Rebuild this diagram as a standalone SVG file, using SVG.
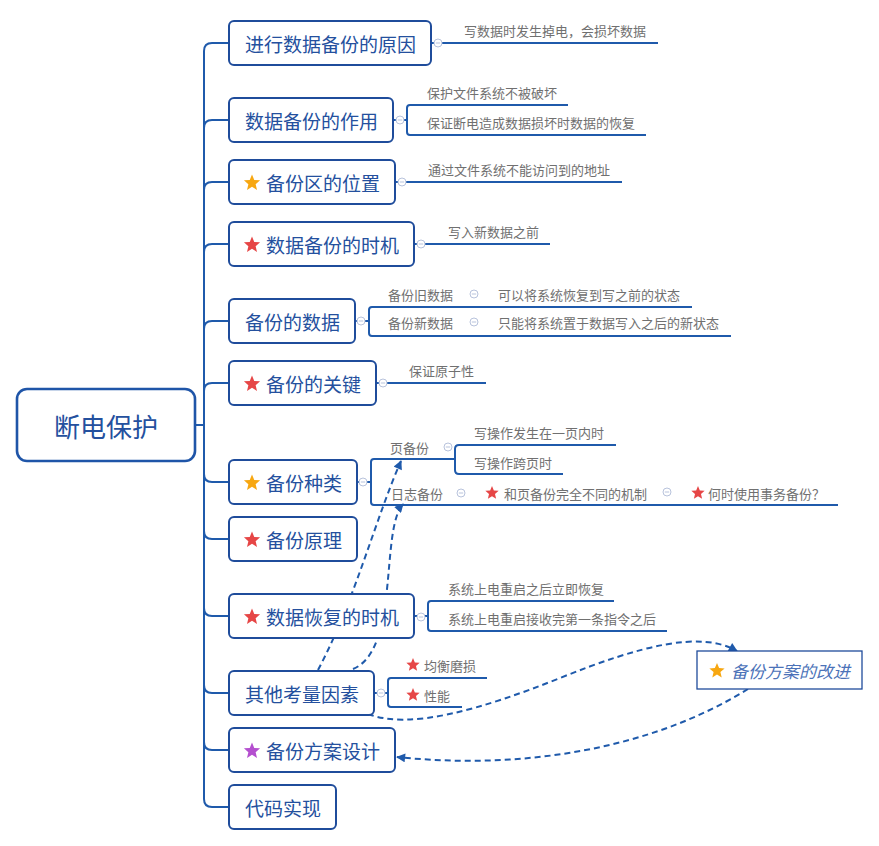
<svg xmlns="http://www.w3.org/2000/svg" width="879" height="846" viewBox="0 0 879 846">
<style>
.bg{fill:#ffffff}
.node{fill:#ffffff;stroke:#1f4c9b;stroke-width:2}
.root{fill:#ffffff;stroke:#1f55a8;stroke-width:2.6}
.nt{font-family:"Microsoft YaHei","Noto Sans CJK SC",sans-serif;font-size:19px;fill:#24509e;dominant-baseline:central}
.rt{font-family:"Microsoft YaHei","Noto Sans CJK SC",sans-serif;font-size:26px;fill:#24509e;dominant-baseline:central;text-anchor:middle}
.ct{font-family:"Microsoft YaHei","Noto Sans CJK SC",sans-serif;font-size:13px;fill:#707070;dominant-baseline:central}
.it{font-family:"Microsoft YaHei","Noto Sans CJK SC",sans-serif;font-size:17px;fill:#4b72b8;font-style:italic;dominant-baseline:central}
.ln{fill:none;stroke:#1f5aab;stroke-width:2}
.dash{fill:none;stroke:#1f5aab;stroke-width:2;stroke-dasharray:6 4}
.col{fill:#ffffff;stroke:#b8c3dc;stroke-width:1}
.colm{stroke:#b8c3dc;stroke-width:1}
.so{fill:#f7a711}
.sr{fill:#e64646}
.sp{fill:#b44fcf}
.fl{fill:#ffffff;stroke:#1f4c9b;stroke-width:1.3}
</style>
<defs>
<path id="star" d="M0,-1 L0.265,-0.364 L0.951,-0.309 L0.428,0.139 L0.588,0.809 L0,0.45 L-0.588,0.809 L-0.428,0.139 L-0.951,-0.309 L-0.265,-0.364 Z"/>
<g id="cb"><circle class="col" r="4"/><line class="colm" x1="-2.2" y1="0" x2="2.2" y2="0"/></g>
<marker id="arr" viewBox="0 0 10 10" refX="9" refY="5" markerWidth="10" markerHeight="9" markerUnits="userSpaceOnUse" orient="auto">
<path d="M0,0 L10,5 L0,10 Z" fill="#1f5aab"/>
</marker>
</defs>
<rect class="bg" x="0" y="0" width="879" height="846"/>

<g id="connectors">
<!-- trunk -->
<path class="ln" d="M195,425 H204 M204,51 V799"/>
<path class="ln" d="M229,43 H212 Q204,43 204,51"/>
<path class="ln" d="M204,128 Q204,120 212,120 H229"/>
<path class="ln" d="M204,190 Q204,182 212,182 H229"/>
<path class="ln" d="M204,252 Q204,244 212,244 H229"/>
<path class="ln" d="M204,329 Q204,321 212,321 H229"/>
<path class="ln" d="M204,391 Q204,383 212,383 H229"/>
<path class="ln" d="M204,474 Q204,482 212,482 H229"/>
<path class="ln" d="M204,531 Q204,539 212,539 H229"/>
<path class="ln" d="M204,608 Q204,616 212,616 H229"/>
<path class="ln" d="M204,685 Q204,693 212,693 H229"/>
<path class="ln" d="M204,742 Q204,750 212,750 H229"/>
<path class="ln" d="M229,807 H212 Q204,807 204,799"/>

<!-- node1 child -->
<path class="ln" d="M431,43 H658"/>
<!-- node2 children -->
<path class="ln" d="M393,120 H407 M568,105 H410 Q407,105 407,108 V132 Q407,135 410,135 H646"/>
<!-- node3 -->
<path class="ln" d="M395,182 H622"/>
<!-- node4 -->
<path class="ln" d="M414,244 H550"/>
<!-- node5 -->
<path class="ln" d="M355,321 H369 M692,307 H372 Q369,307 369,310 V333 Q369,336 372,336 H731"/>
<!-- node6 -->
<path class="ln" d="M376,383 H486"/>
<!-- node7 -->
<path class="ln" d="M357,482 H371 M455,459 H374 Q371,459 371,462 V502 Q371,505 374,505 H838"/>
<path class="ln" d="M616,445 H459 Q455,445 455,449 V470 Q455,474 459,474 H563"/>
<!-- node9 -->
<path class="ln" d="M414,616 H428 M614,601 H431 Q428,601 428,604 V628 Q428,631 431,631 H667"/>
<!-- node10 -->
<path class="ln" d="M374,693 H388 M487,678 H391 Q388,678 388,681 V704 Q388,707 391,707 H462"/>

<!-- collapse markers -->
<use href="#cb" x="438" y="43"/>
<use href="#cb" x="400" y="120"/>
<use href="#cb" x="402" y="182"/>
<use href="#cb" x="421" y="244"/>
<use href="#cb" x="361" y="321"/>
<use href="#cb" x="474" y="294"/>
<use href="#cb" x="474" y="322"/>
<use href="#cb" x="383" y="383"/>
<use href="#cb" x="363" y="482"/>
<use href="#cb" x="448" y="447"/>
<use href="#cb" x="461" y="493"/>
<use href="#cb" x="667" y="492"/>
<use href="#cb" x="421" y="617"/>
<use href="#cb" x="381" y="693"/>

<!-- dashed relationships -->
<path class="dash" d="M318,670 C355,600 375,520 401,461" marker-end="url(#arr)"/>
<path class="dash" d="M353,669 C400,650 380,530 403,504" marker-end="url(#arr)"/>
<path class="dash" d="M368,714 C410,730 480,710 560,678 C640,646 700,630 737,651" marker-end="url(#arr)"/>
<path class="dash" d="M748,689 C650,750 520,770 397,757" marker-end="url(#arr)"/>
</g>

<g id="root">
<rect class="root" x="17" y="389" width="178" height="72" rx="10"/>
<text class="rt" x="106" y="425">断电保护</text>
</g>

<g id="n1">
<rect class="node" x="229" y="21" width="202" height="44" rx="5"/>
<text class="nt" x="245" y="43">进行数据备份的原因</text>
<text class="ct" x="464" y="30">写数据时发生掉电，会损坏数据</text>
</g>
<g id="n2">
<rect class="node" x="229" y="98" width="164" height="44" rx="5"/>
<text class="nt" x="245" y="120">数据备份的作用</text>
<text class="ct" x="427" y="92">保护文件系统不被破坏</text>
<text class="ct" x="427" y="122">保证断电造成数据损坏时数据的恢复</text>
</g>
<g id="n3">
<rect class="node" x="229" y="160" width="166" height="44" rx="5"/>
<use href="#star" class="so" transform="translate(252,183) scale(8.5)"/>
<text class="nt" x="266" y="182">备份区的位置</text>
<text class="ct" x="428" y="169">通过文件系统不能访问到的地址</text>
</g>
<g id="n4">
<rect class="node" x="229" y="222" width="185" height="44" rx="5"/>
<use href="#star" class="sr" transform="translate(252,245) scale(8.5)"/>
<text class="nt" x="266" y="244">数据备份的时机</text>
<text class="ct" x="448" y="231">写入新数据之前</text>
</g>
<g id="n5">
<rect class="node" x="229" y="299" width="126" height="44" rx="5"/>
<text class="nt" x="245" y="321">备份的数据</text>
<text class="ct" x="388" y="294">备份旧数据</text>
<text class="ct" x="498" y="294">可以将系统恢复到写之前的状态</text>
<text class="ct" x="388" y="322">备份新数据</text>
<text class="ct" x="498" y="322">只能将系统置于数据写入之后的新状态</text>
</g>
<g id="n6">
<rect class="node" x="229" y="361" width="147" height="44" rx="5"/>
<use href="#star" class="sr" transform="translate(252,384) scale(8.5)"/>
<text class="nt" x="266" y="383">备份的关键</text>
<text class="ct" x="409" y="370">保证原子性</text>
</g>
<g id="n7">
<rect class="node" x="229" y="460" width="128" height="44" rx="5"/>
<use href="#star" class="so" transform="translate(252,483) scale(8.5)"/>
<text class="nt" x="266" y="482">备份种类</text>
<text class="ct" x="390" y="447">页备份</text>
<text class="ct" x="474" y="432">写操作发生在一页内时</text>
<text class="ct" x="474" y="462">写操作跨页时</text>
<text class="ct" x="391" y="493">日志备份</text>
<use href="#star" class="sr" transform="translate(492,493) scale(7)"/>
<text class="ct" x="504" y="493">和页备份完全不同的机制</text>
<use href="#star" class="sr" transform="translate(698,493) scale(7)"/>
<text class="ct" x="708" y="493">何时使用事务备份？</text>
</g>
<g id="n8">
<rect class="node" x="229" y="517" width="128" height="44" rx="5"/>
<use href="#star" class="sr" transform="translate(252,540) scale(8.5)"/>
<text class="nt" x="266" y="539">备份原理</text>
</g>
<g id="n9">
<rect class="node" x="229" y="594" width="185" height="44" rx="5"/>
<use href="#star" class="sr" transform="translate(252,617) scale(8.5)"/>
<text class="nt" x="266" y="616">数据恢复的时机</text>
<text class="ct" x="448" y="588">系统上电重启之后立即恢复</text>
<text class="ct" x="448" y="618">系统上电重启接收完第一条指令之后</text>
</g>
<g id="n10">
<rect class="node" x="229" y="671" width="145" height="44" rx="5"/>
<text class="nt" x="245" y="693">其他考量因素</text>
<use href="#star" class="sr" transform="translate(413,665) scale(7)"/>
<text class="ct" x="424" y="665">均衡磨损</text>
<use href="#star" class="sr" transform="translate(413,695) scale(7)"/>
<text class="ct" x="424" y="695">性能</text>
</g>
<g id="n11">
<rect class="node" x="229" y="728" width="166" height="44" rx="5"/>
<use href="#star" class="sp" transform="translate(252,751) scale(8.5)"/>
<text class="nt" x="266" y="750">备份方案设计</text>
</g>
<g id="n12">
<rect class="node" x="229" y="785" width="107" height="44" rx="5"/>
<text class="nt" x="245" y="807">代码实现</text>
</g>
<g id="float">
<rect class="fl" x="697" y="651" width="165" height="38"/>
<use href="#star" class="so" transform="translate(717,671) scale(8)"/>
<text class="it" x="731" y="670">备份方案的改进</text>
</g>
</svg>
